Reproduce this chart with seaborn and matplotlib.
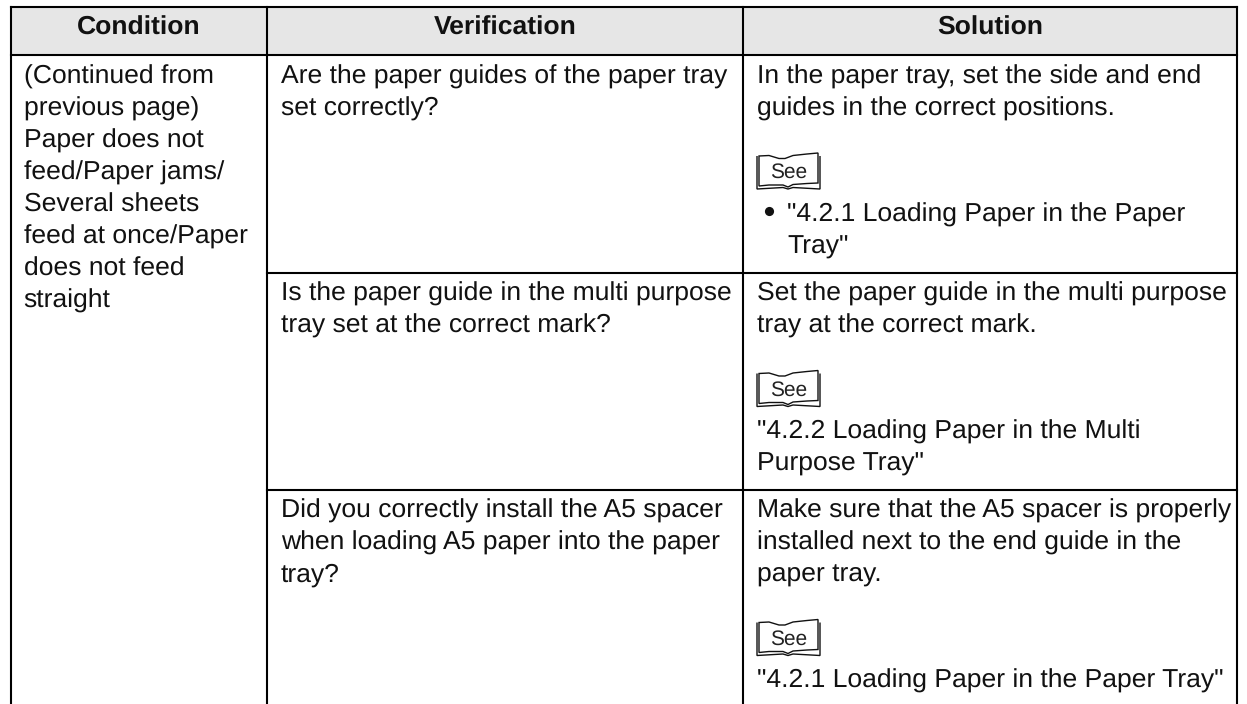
import matplotlib
matplotlib.use("Agg")
import matplotlib.pyplot as plt
import pandas as pd
import seaborn as sns
from matplotlib.path import Path
from matplotlib.patches import PathPatch, Rectangle

sns.set_theme(style="white")
plt.rcParams["font.family"] = ["Liberation Sans", "DejaVu Sans"]
plt.rcParams["text.hinting"] = "no_hinting"
plt.rcParams["text.hinting_factor"] = 8

headers = ["Condition", "Verification", "Solution"]
condition_lines = ["(Continued from", "previous page)", "Paper does not", "feed/Paper jams/",
                   "Several sheets", "feed at once/Paper", "does not feed", "straight"]
verification_1 = ["Are the paper guides of the paper tray", "set correctly?"]
verification_2 = ["Is the paper guide in the multi purpose", "tray set at the correct mark?"]
verification_3 = ["Did you correctly install the A5 spacer", "when loading A5 paper into the paper", "tray?"]
solution_1 = ["In the paper tray, set the side and end", "guides in the correct positions."]
solution_1_ref = ['"4.2.1 Loading Paper in the Paper', 'Tray"']
solution_2 = ["Set the paper guide in the multi purpose", "tray at the correct mark."]
solution_2_ref = ['"4.2.2 Loading Paper in the Multi', 'Purpose Tray"']
solution_3 = ["Make sure that the A5 spacer is properly", "installed next to the end guide in the", "paper tray."]
solution_3_ref = ['"4.2.1 Loading Paper in the Paper Tray"']
see_label = "See"

W, H = 1247, 704
fig = plt.figure(figsize=(W / 100, H / 100), dpi=100, facecolor="white")
ax = fig.add_axes([0, 0, 1, 1])
ax.set_xlim(0, W)
ax.set_ylim(H, 0)
ax.axis("off")

X0, X1, X2, X3 = 10.5, 267, 743, 1237
Y_TOP, Y_HEAD, Y_R1, Y_R2, Y_END = 6.5, 54.5, 272.5, 490, 704

ax.add_patch(Rectangle((X0, Y_TOP), X3 - X0, Y_HEAD - Y_TOP, fc="#e6e6e6", ec="none", zorder=0))

rules = pd.DataFrame(
    [(0, X0, Y_TOP), (0, X3, Y_TOP), (1, X0, Y_HEAD), (1, X3, Y_HEAD),
     (2, X1, Y_R1), (2, X3, Y_R1), (3, X1, Y_R2), (3, X3, Y_R2),
     (4, X0, Y_TOP), (4, X0, Y_END), (5, X1, Y_TOP), (5, X1, Y_END),
     (6, X2, Y_TOP), (6, X2, Y_END), (7, X3, Y_TOP), (7, X3, Y_END)],
    columns=["rule", "x", "y"],
)
sns.lineplot(data=rules, x="x", y="y", units="rule", estimator=None, sort=False,
             color="black", lw=1.5, ax=ax, legend=False, solid_capstyle="projecting")
ax.set_xlim(0, W)
ax.set_ylim(H, 0)
ax.axis("off")

FS = 19.05
LEAD = 32


def block(lines, x, y):
    for i, line in enumerate(lines):
        ax.text(x, y + 0.5 + i * LEAD, line, fontsize=FS, color="#111111", va="baseline", ha="left")


def book(x, y):
    # x, y: top-left of the icon, 64 wide and 36 high
    front = Path(
        [(x + 2, y + 3), (x + 12, y + 2.5), (x + 22, y + 5.5), (x + 28, y + 5.5),
         (x + 36, y + 2.5), (x + 50, y + 1), (x + 61, y),
         (x + 61, y + 30), (x + 50, y + 30.5), (x + 36, y + 31.5), (x + 31, y + 34),
         (x + 26, y + 32), (x + 12, y + 32), (x + 2, y + 33), (x + 2, y + 3)],
        [Path.MOVETO, Path.LINETO, Path.LINETO, Path.LINETO, Path.LINETO, Path.LINETO, Path.LINETO,
         Path.LINETO, Path.LINETO, Path.LINETO, Path.LINETO, Path.LINETO, Path.LINETO, Path.LINETO,
         Path.CLOSEPOLY],
    )
    ax.add_patch(PathPatch(front, fc="white", ec="#111111", lw=1.0, zorder=3))
    back = Path(
        [(x + 63, y + 3), (x + 63, y + 36), (x + 36, y + 34.5), (x + 31, y + 36),
         (x + 26, y + 34.5), (x, y + 36), (x, y + 3)],
        [Path.MOVETO] + [Path.LINETO] * 6,
    )
    ax.add_patch(PathPatch(back, fc="none", ec="#111111", lw=1.0, zorder=3))
    ax.text(x + 13, y + 25, see_label, fontsize=15, color="#222222", va="baseline", ha="left", zorder=4)


for name, cx in zip(headers, [138.5, 505, 990]):
    ax.text(cx, 34.5, name, fontsize=FS, fontweight="bold", color="#111111", ha="center", va="baseline")

block(condition_lines, 23.5, 83)
block(verification_1, 281, 83)
block(verification_2, 281, 300)
block(verification_3, 281, 517.5)

block(solution_1, 757, 83)
book(757, 153)
ax.plot([769], [211], "o", color="#111111", ms=6.6, mew=0)
block(solution_1_ref, 787, 221)

block(solution_2, 757, 300)
book(757, 370.5)
block(solution_2_ref, 757, 438)

block(solution_3, 757, 517.5)
book(757, 619.5)
block(solution_3_ref, 757, 687)

fig.savefig("out.png", dpi=100, facecolor="white")
